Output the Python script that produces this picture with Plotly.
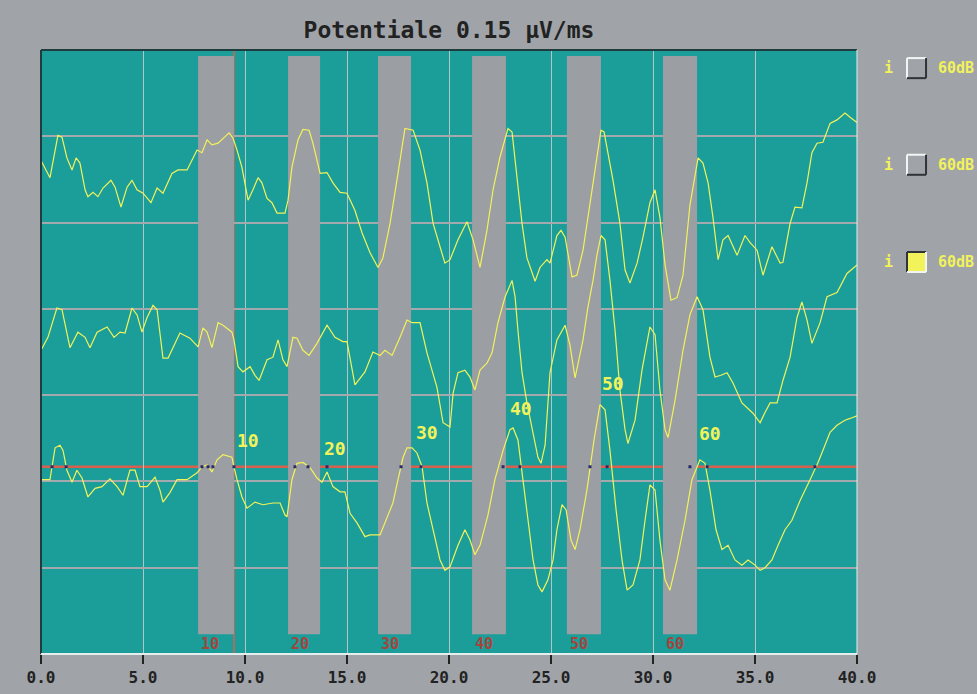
import plotly.graph_objects as go

# ---------------- data (time in ms, amplitude in screen divisions) ----------------
t1_x = [0.0, 0.44, 0.83, 1.03, 1.27, 1.52, 1.72, 1.91, 2.16, 2.30, 2.55, 2.79, 3.04, 3.43, 3.63, 3.92,
        4.22, 4.46, 4.71, 5.00, 5.39, 5.69, 5.98, 6.42, 6.72, 7.16, 7.65, 7.89, 8.14, 8.38, 8.68, 9.02,
        9.22, 9.41, 9.61, 9.85, 10.15, 10.39, 10.64, 10.83, 11.08, 11.32, 11.57, 11.96, 12.11, 12.30,
        12.60, 12.84, 13.14, 13.33, 13.68, 14.02, 14.31, 14.66, 15.00, 15.39, 15.74, 16.13, 16.52, 16.76,
        17.11, 17.50, 17.84, 18.24, 18.58, 18.92, 19.22, 19.56, 19.80, 20.05, 20.44, 20.88, 21.18, 21.52,
        21.86, 22.16, 22.50, 22.89, 23.09, 23.33, 23.58, 23.82, 24.22, 24.46, 24.80, 24.95, 25.29, 25.49,
        25.69, 26.03, 26.27, 26.57, 26.91, 27.25, 27.45, 27.60, 28.04, 28.38, 28.63, 28.87, 29.22, 29.51,
        29.85, 30.10, 30.34, 30.59, 30.88, 31.18, 31.47, 31.81, 32.21, 32.45, 32.70, 32.94, 33.19, 33.43,
        33.68, 34.12, 34.51, 34.75, 35.10, 35.39, 35.83, 36.23, 36.37, 36.72, 36.96, 37.30, 37.55, 37.79,
        38.04, 38.33, 38.68, 39.02, 39.41, 39.66, 40.0]
t1_y = [5.72, 5.52, 6.01, 5.99, 5.75, 5.61, 5.75, 5.69, 5.38, 5.30, 5.35, 5.30, 5.40, 5.49, 5.41, 5.18,
        5.41, 5.49, 5.38, 5.34, 5.23, 5.40, 5.34, 5.57, 5.61, 5.61, 5.84, 5.81, 5.96, 5.90, 5.92, 5.99,
        6.04, 5.98, 5.84, 5.64, 5.26, 5.38, 5.52, 5.46, 5.28, 5.23, 5.11, 5.11, 5.26, 5.64,
        5.96, 6.08, 6.07, 5.92, 5.57, 5.58, 5.46, 5.35, 5.34, 5.14, 4.88, 4.65, 4.48, 4.59,
        4.99, 5.57, 6.09, 6.07, 5.84, 5.46, 4.99, 4.72, 4.53, 4.57, 4.80, 5.01, 4.80, 4.48,
        4.91, 5.38, 5.76, 6.09, 6.05, 5.53, 4.99, 4.59, 4.32, 4.48, 4.57, 4.53, 4.85, 4.91,
        4.83, 4.37, 4.39, 4.68, 5.20, 5.72, 6.07, 6.05, 5.49, 4.99, 4.45, 4.30, 4.53, 4.83,
        5.23, 5.38, 5.06, 4.51, 4.10, 4.13, 4.39, 5.20, 5.75, 5.69, 5.46, 5.06, 4.57, 4.80,
        4.85, 4.62, 4.85, 4.77, 4.68, 4.39, 4.72, 4.53, 4.54, 4.99, 5.18, 5.17, 5.46, 5.81,
        5.92, 5.93, 6.15, 6.19, 6.27, 6.22, 6.16]

t2_x = [0.0, 0.34, 0.78, 1.03, 1.42, 1.81, 2.16, 2.40, 2.75, 3.24, 3.58, 3.87, 4.12, 4.46, 4.71, 4.95,
        5.20, 5.49, 5.69, 5.98, 6.23, 6.81, 7.30, 7.70, 7.94, 8.14, 8.38, 8.68, 8.92, 9.36, 9.46, 9.66,
        9.90, 10.25, 10.49, 10.69, 11.08, 11.37, 11.62, 11.86, 12.06, 12.35, 12.55, 12.84, 13.14, 13.53,
        14.02, 14.41, 14.80, 15.00, 15.39, 15.64, 15.88, 16.27, 16.62, 16.86, 17.21, 17.60, 17.94, 18.19,
        18.58, 18.92, 19.41, 19.71, 20.05, 20.20, 20.44, 20.78, 21.03, 21.27, 21.52, 21.86, 22.11, 22.40,
        22.75, 23.09, 23.24, 23.38, 23.58, 23.82, 24.07, 24.36, 24.51, 24.71, 24.95, 25.29, 25.69, 25.93,
        26.18, 26.57, 26.81, 27.06, 27.25, 27.45, 27.65, 27.89, 28.14, 28.38, 28.63, 28.77, 29.12, 29.46,
        29.85, 30.10, 30.34, 30.59, 30.74, 31.08, 31.47, 31.81, 32.16, 32.45, 32.79, 33.04, 33.33, 33.63,
        33.92, 34.36, 34.90, 35.25, 35.49, 35.74, 36.08, 36.37, 36.72, 37.06, 37.30, 37.55, 37.79, 38.19,
        38.53, 39.02, 39.51, 40.0]
t2_y = [3.52, 3.67, 4.01, 3.99, 3.55, 3.73, 3.67, 3.55, 3.73, 3.79, 3.67, 3.73, 3.72, 4.01, 3.93, 3.73,
        3.90, 4.04, 3.99, 3.43, 3.43, 3.72, 3.66, 3.56, 3.78, 3.73, 3.55, 3.84, 3.81, 3.73, 3.64, 3.33,
        3.27, 3.33, 3.23, 3.17, 3.41, 3.44, 3.64, 3.41, 3.33, 3.67, 3.66, 3.52, 3.46, 3.60,
        3.81, 3.67, 3.62, 3.62, 3.12, 3.20, 3.27, 3.50, 3.46, 3.52, 3.46, 3.67, 3.87, 3.84,
        3.84, 3.49, 3.09, 2.68, 2.63, 3.02, 3.26, 3.29, 3.21, 3.06, 3.29, 3.37, 3.49, 3.84,
        4.14, 4.33, 4.14, 3.75, 3.26, 2.91, 2.60, 2.28, 2.21, 2.42, 3.26, 3.64, 3.81, 3.58,
        3.20, 3.64, 4.02, 4.33, 4.62, 4.85, 4.80, 4.33, 3.75, 3.06, 2.60, 2.44, 2.71, 3.29,
        3.79, 3.70, 3.06, 2.60, 2.51, 2.94, 3.52, 3.93, 4.14, 3.99, 3.44, 3.21, 3.23, 3.26,
        3.14, 2.91, 2.79, 2.68, 2.80, 2.91, 2.91, 3.17, 3.44, 3.90, 4.08, 3.87, 3.60, 3.84,
        4.14, 4.19, 4.41, 4.51]

t3_x = [0.0, 0.44, 0.69, 0.93, 1.08, 1.27, 1.52, 1.76, 2.01, 2.30, 2.65, 2.99, 3.38, 3.73, 4.02, 4.36,
        4.61, 4.85, 5.20, 5.59, 5.83, 5.98, 6.32, 6.67, 7.16, 7.65, 7.89, 8.14, 8.38, 8.63, 8.92, 9.36,
        9.46, 9.61, 9.85, 10.10, 10.49, 10.88, 11.37, 11.72, 11.96, 12.06, 12.30, 12.55, 12.84, 13.19,
        13.53, 13.77, 14.02, 14.31, 14.66, 14.90, 15.15, 15.49, 15.88, 16.13, 16.62, 16.96, 17.25, 17.50,
        17.75, 17.94, 18.19, 18.43, 18.68, 18.92, 19.22, 19.56, 19.80, 20.05, 20.44, 20.78, 21.03, 21.27,
        21.52, 21.91, 22.25, 22.65, 22.99, 23.14, 23.38, 23.63, 23.87, 24.12, 24.36, 24.56, 24.85, 25.10,
        25.29, 25.54, 25.74, 25.98, 26.18, 26.42, 26.76, 27.11, 27.40, 27.65, 27.89, 28.19, 28.48, 28.73,
        29.02, 29.36, 29.61, 29.85, 30.10, 30.34, 30.59, 30.83, 31.18, 31.57, 31.91, 32.30, 32.55, 32.79,
        33.09, 33.38, 33.68, 34.02, 34.36, 34.66, 35.00, 35.25, 35.49, 35.83, 36.13, 36.47, 36.81, 37.21,
        37.70, 38.09, 38.43, 38.68, 39.02, 39.41, 39.66, 40.0]
t3_y = [2.02, 2.02, 2.39, 2.42, 2.36, 2.13, 1.99, 2.13, 2.04, 1.82, 1.92, 1.94, 2.03, 1.94, 1.84, 2.13,
        2.13, 1.94, 1.94, 2.05, 1.90, 1.76, 1.87, 2.02, 2.02, 2.10, 2.17, 2.19, 2.11, 2.25, 2.31, 2.28,
        2.17, 2.02, 1.82, 1.69, 1.76, 1.73, 1.75, 1.75, 1.61, 1.59, 2.02, 2.21, 2.22, 2.16,
        2.04, 1.99, 2.11, 1.94, 1.88, 1.88, 1.63, 1.52, 1.36, 1.38, 1.38, 1.59, 1.75, 2.02,
        2.28, 2.39, 2.39, 2.33, 2.17, 1.75, 1.44, 1.09, 0.97, 1.01, 1.26, 1.44, 1.32, 1.15,
        1.26, 1.61, 2.02, 2.36, 2.60, 2.62, 2.48, 2.02, 1.55, 1.09, 0.80, 0.72, 0.86, 1.09,
        1.44, 1.73, 1.67, 1.32, 1.21, 1.44, 1.90, 2.48, 2.89, 2.83, 2.36, 1.67, 1.09, 0.74,
        0.80, 1.09, 1.55, 1.96, 1.90, 1.32, 0.86, 0.74, 1.09, 1.55, 2.02, 2.25, 2.21, 1.90,
        1.44, 1.21, 1.26, 1.09, 1.03, 1.09, 1.03, 0.97, 1.00, 1.09, 1.26, 1.44, 1.55, 1.78,
        2.02, 2.22, 2.42, 2.57, 2.65, 2.71, 2.73, 2.76]

window_start = [7.70, 12.11, 16.52, 21.13, 25.78, 30.49]
window_end = [9.46, 13.68, 18.14, 22.79, 27.45, 32.16]
window_labels = ["10", "20", "30", "40", "50", "60"]
window_top = 6.93
window_bottom = 0.23
window_label_y = 0.12

baseline_y = 2.17
cursor_x = 9.46

peak_x = [9.50, 13.77, 18.28, 22.89, 27.40, 32.16]
peak_y = [2.47, 2.38, 2.57, 2.85, 3.13, 2.55]
peak_labels = ["10", "20", "30", "40", "50", "60"]

crossing_x = [0.54, 1.23, 7.89, 8.19, 8.43, 9.46, 12.45, 13.09, 14.02, 17.65, 18.63,
              22.65, 23.48, 26.91, 27.75, 31.81, 32.65, 37.94]

legend_labels = ["60dB", "60dB", "60dB"]
legend_checked = [False, False, True]

x_ticks = [0, 5, 10, 15, 20, 25, 30, 35, 40]
x_ticktext = ["0.0", "5.0", "10.0", "15.0", "20.0", "25.0", "30.0", "35.0", "40.0"]

title_text = "Potentiale 0.15 µV/ms"

# ---------------- styling ----------------
PAPER = "#a0a4a9"
PLOT = "#1b9e9a"
BARGRAY = "#9b9ea2"
YEL = "#f2f25a"
RED = "#d8604c"
MONO = "DejaVu Sans Mono"

fig = go.Figure()

for xs, ys in [(t1_x, t1_y), (t2_x, t2_y), (t3_x, t3_y)]:
    fig.add_trace(go.Scatter(x=xs, y=ys, mode="lines",
                             line=dict(color=YEL, width=1.2), hoverinfo="skip",
                             showlegend=False))

fig.add_trace(go.Scatter(x=crossing_x, y=[baseline_y] * len(crossing_x), mode="markers",
                         marker=dict(symbol="square", size=3, color="#2a2a6a"),
                         hoverinfo="skip", showlegend=False))

shapes = []
for x0, x1 in zip(window_start, window_end):
    shapes.append(dict(type="rect", xref="x", yref="y", x0=x0, x1=x1,
                       y0=window_bottom, y1=window_top, fillcolor=BARGRAY,
                       line=dict(width=0), layer="between"))
shapes.append(dict(type="line", xref="paper", yref="y", x0=0, x1=1,
                   y0=baseline_y, y1=baseline_y, line=dict(color=RED, width=2.5),
                   layer="between"))
shapes.append(dict(type="line", xref="x", yref="paper", x0=cursor_x, x1=cursor_x,
                   y0=0, y1=1, line=dict(color=RED, width=1.5), layer="between"))
# frame
shapes.append(dict(type="line", xref="paper", yref="paper", x0=0, x1=1, y0=1, y1=1,
                   line=dict(color="#1f3d3c", width=2)))
shapes.append(dict(type="line", xref="paper", yref="paper", x0=0, x1=0, y0=0, y1=1,
                   line=dict(color="#1f3d3c", width=2)))
shapes.append(dict(type="line", xref="paper", yref="paper", x0=0, x1=1, y0=0, y1=0,
                   line=dict(color="#e4eeee", width=2)))
shapes.append(dict(type="line", xref="paper", yref="paper", x0=1, x1=1, y0=0, y1=1,
                   line=dict(color="#e4eeee", width=1)))

annotations = []
for x0, lab in zip(window_start, window_labels):
    annotations.append(dict(x=x0 + 0.05, y=window_label_y, xref="x", yref="y", text="<b>%s</b>" % lab,
                            showarrow=False, xanchor="left", yanchor="middle",
                            font=dict(family=MONO, size=15, color="#a4453c")))
for px_, py_, lab in zip(peak_x, peak_y, peak_labels):
    annotations.append(dict(x=px_, y=py_, xref="x", yref="y", text="<b>%s</b>" % lab,
                            showarrow=False, xanchor="left", yanchor="middle",
                            font=dict(family=MONO, size=18, color=YEL)))

# legend-like checkboxes on the right
row_y = [0.970, 0.810, 0.649]
for ry, lab, chk in zip(row_y, legend_labels, legend_checked):
    annotations.append(dict(x=1.038, y=ry, xref="paper", yref="paper", text="<b>i</b>",
                            showarrow=False, xanchor="center", yanchor="middle",
                            font=dict(family=MONO, size=15, color=YEL)))
    annotations.append(dict(x=1.097, y=ry, xref="paper", yref="paper", text="<b>%s</b>" % lab,
                            showarrow=False, xanchor="left", yanchor="middle",
                            font=dict(family=MONO, size=15, color=YEL)))
    bx0, bx1 = 1.0613, 1.0846
    by0, by1 = ry - 0.0166, ry + 0.0166
    shapes.append(dict(type="rect", xref="paper", yref="paper", x0=bx0, x1=bx1, y0=by0, y1=by1,
                       fillcolor=YEL if chk else PAPER, line=dict(width=0)))
    light, dark = ("#f4f4f4", "#303436") if not chk else ("#303436", "#f4f4f4")
    shapes.append(dict(type="line", xref="paper", yref="paper", x0=bx0, x1=bx1, y0=by1, y1=by1,
                       line=dict(color=light, width=2)))
    shapes.append(dict(type="line", xref="paper", yref="paper", x0=bx0, x1=bx0, y0=by0, y1=by1,
                       line=dict(color=light, width=2)))
    shapes.append(dict(type="line", xref="paper", yref="paper", x0=bx0, x1=bx1, y0=by0, y1=by0,
                       line=dict(color=dark, width=2)))
    shapes.append(dict(type="line", xref="paper", yref="paper", x0=bx1, x1=bx1, y0=by0, y1=by1,
                       line=dict(color=dark, width=2)))

fig.update_layout(
    width=977, height=694,
    margin=dict(l=41, r=120, t=50, b=40, autoexpand=False),
    paper_bgcolor=PAPER, plot_bgcolor=PLOT,
    title=dict(text="<b>%s</b>" % title_text, x=0.5, xref="paper", xanchor="center",
               y=1 - 30 / 694, yref="container", yanchor="middle",
               font=dict(family=MONO, size=23, color="#222222")),
    xaxis=dict(range=[0, 40], tickvals=x_ticks, ticktext=["<b>%s</b>" % t for t in x_ticktext],
               showgrid=True, gridcolor="#b2c6c6", gridwidth=1,
               ticks="outside", ticklen=9, tickwidth=2, tickcolor="#222222",
               tickfont=dict(family=MONO, size=16, color="#222222"),
               zeroline=False, showline=False, fixedrange=True, automargin=False),
    yaxis=dict(range=[0, 7], dtick=1, showgrid=True, gridcolor="#a3a9ad", gridwidth=2,
               showticklabels=False, ticks="", zeroline=False, showline=False, fixedrange=True,
               automargin=False),
    shapes=shapes, annotations=annotations,
    showlegend=False,
)

fig.write_html("out.html", config={"displayModeBar": False},
               post_script="document.body.style.margin='0';document.body.style.background='%s';" % PAPER)
